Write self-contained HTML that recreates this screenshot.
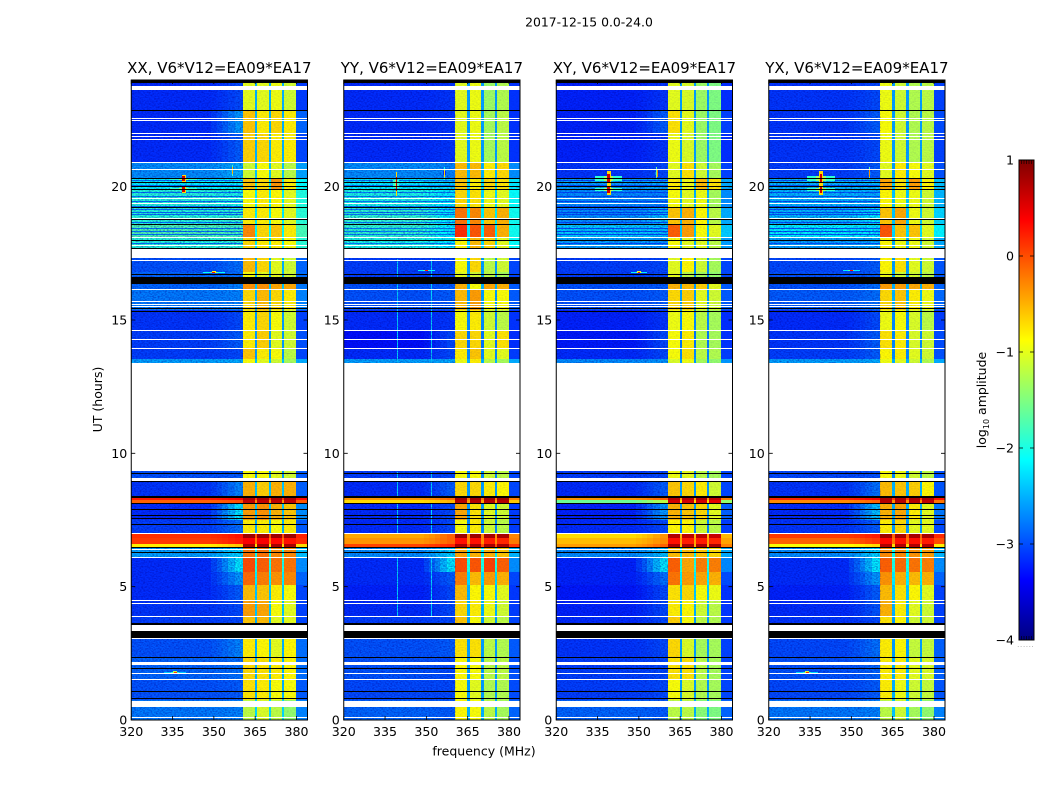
<!DOCTYPE html>
<html>
<head>
<meta charset="utf-8">
<title>2017-12-15 0.0-24.0</title>
<style>
html,body{margin:0;padding:0;background:#fff;}
svg{display:block;}
text{font-family:"DejaVu Sans","Liberation Sans",sans-serif;fill:#000;}
</style>
</head>
<body>
<svg id="figure" width="1050" height="800" viewBox="0 0 1050 800" xmlns="http://www.w3.org/2000/svg">
<defs>
<filter id="speckle" x="0" y="0" width="100%" height="100%" color-interpolation-filters="sRGB">
<feTurbulence type="fractalNoise" baseFrequency="0.55 0.8" numOctaves="1" seed="7"/>
<feColorMatrix type="matrix" values="0 0 0 0 0  0 0 0 0 0  0 0 0 0 0.6  2.6 0 0 0 -1.0"/>
</filter>
</defs>
<rect x="0" y="0" width="1050" height="800" fill="#fff"/>
<text x="589" y="26.5" font-size="12.4" text-anchor="middle">2017-12-15 0.0-24.0</text>
<text x="0" y="0" font-size="12.5" text-anchor="middle" transform="translate(102 399.5) rotate(-90)">UT (hours)</text>
<text x="484" y="755.5" font-size="12.5" text-anchor="middle">frequency (MHz)</text>
<text x="0" y="0" font-size="12.5" text-anchor="middle" transform="translate(986 400) rotate(-90)">log<tspan font-size="8" dy="3">10</tspan><tspan dy="-3"> amplitude</tspan></text>
<g id="panels"></g>
<g id="colorbar"></g>
<text x="1026" y="647" font-size="6" letter-spacing="1" style="fill:#777" text-anchor="middle">......</text>
</svg>
<script>
// ---- axis data ----
const panelTitles = ["XX, V6*V12=EA09*EA17", "YY, V6*V12=EA09*EA17", "XY, V6*V12=EA09*EA17", "YX, V6*V12=EA09*EA17"];
const xTicks = [320, 335, 350, 365, 380];
const yTicks = [0, 5, 10, 15, 20];
const colorTicks = [-4, -3, -2, -1, 0, 1];
// UT edges of the rows (hours, top to bottom)
const rowEdges = [24.0,22.875,22.01,20.925,20.325,19.875,19.24,18.6,18.11,17.325,16.8,16.35,16.125,15.375,14.625,13.95,13.54,9.34,8.925,8.36,8.25,8.1,7.5,6.975,6.825,6.6,6.49,6.075,5.55,5.06,4.5,3.9,3.075,2.325,1.5,0.75,0];
// log10 amplitude per row: [320-350 background, 355-360 edge, sub-band 1, 2, 3, 4, gaps]
const levelsXX = [
[-3.15,-3.0,-1.0,-1.0,-0.95,-1.1,-2.5],[-3.15,-2.6,-0.6,-0.8,-0.7,-0.8,-2.5],[-3.15,-2.9,-0.65,-0.7,-0.8,-0.8,-2.5],
[-2.65,-2.5,-1.1,-0.9,-1.0,-1.2,-2.4],[-2.15,-2.1,-0.6,-0.7,-0.35,-0.8,-2.2],[-1.95,-2.0,-0.9,-0.8,-0.85,-1.0,-2.2],
[-1.95,-1.9,-0.8,-0.8,-0.9,-1.0,-2.2],[-1.75,-1.8,-0.3,-0.7,-0.6,-0.8,-2.1],[-1.95,-1.9,-0.7,-0.8,-0.8,-0.9,-2.2],
[-2.95,-2.8,-0.55,-0.7,-1.0,-1.1,-2.5],[-2.85,-2.8,-0.9,-1.0,-1.0,-1.1,-2.5],[-2.85,-2.7,-0.35,-0.35,-0.45,-0.45,-2.4],
[-2.75,-2.7,-0.7,-0.55,-0.7,-0.8,-2.5],[-3.1,-3.0,-0.8,-0.7,-0.9,-1.1,-2.6],[-3.05,-2.9,-0.8,-0.65,-1.0,-1.1,-2.6],
[-3.05,-3.0,-0.6,-0.8,-0.9,-1.2,-2.6],[-2.55,-2.5,-0.9,-1.0,-1.1,-1.3,-2.4],[-2.95,-2.9,-0.9,-0.9,-1.0,-1.1,-2.6],
[-3.1,-2.7,-0.5,-0.65,-0.5,-0.5,-2.4],[0.25,0.4,0.8,0.8,0.8,0.8,0.1],[-0.1,0.0,0.7,0.7,0.7,0.7,-0.3],
[-3.15,-2.2,-0.4,-0.35,-0.5,-0.6,-2.4],[-3.05,-2.8,-0.8,-0.8,-0.9,-0.8,-2.5],[0.15,0.3,0.85,0.85,0.85,0.85,0.0],
[0.1,0.25,0.4,0.4,0.35,0.3,-0.2],[-0.8,-0.6,0.8,0.8,0.8,0.8,-0.7],[-2.55,-2.3,-0.2,-0.2,-0.3,-0.3,-2.1],
[-3.15,-2.2,0.0,-0.1,-0.2,-0.2,-2.0],[-3.15,-2.6,-0.15,-0.25,-0.35,-0.3,-2.2],[-3.15,-2.9,-0.55,-0.6,-0.8,-0.9,-2.4],
[-3.1,-3.0,-0.4,-0.45,-0.9,-1.0,-2.4],[-3.05,-3.0,-0.6,-0.55,-1.0,-1.0,-2.5],[-2.95,-2.7,-0.8,-0.85,-1.0,-0.85,-2.5],
[-2.85,-2.8,-0.7,-0.75,-0.8,-0.85,-2.5],[-2.95,-2.9,-0.75,-0.8,-0.9,-0.9,-2.5],[-2.75,-2.7,-1.2,-1.05,-1.2,-1.4,-2.3]];
const levelsYY = [
[-3.15,-3.1,-1.0,-0.95,-1.35,-1.25,-2.6],[-3.15,-3.1,-1.0,-0.95,-1.3,-1.2,-2.6],[-3.15,-3.1,-1.0,-0.95,-1.3,-1.2,-2.6],
[-2.65,-2.7,-0.55,-0.55,-0.8,-0.7,-2.5],[-2.15,-2.3,-0.6,-0.8,-0.7,-0.75,-2.3],[-2.0,-2.2,-0.7,-0.75,-0.95,-1.0,-2.3],
[-1.9,-2.2,-0.2,-0.3,-0.6,-0.5,-2.2],[-1.9,-2.2,0.15,-0.05,-0.1,-0.5,-2.2],[-2.0,-2.2,-0.85,-0.55,-0.7,-1.0,-2.3],
[-3.05,-3.0,-0.9,-0.7,-1.2,-1.1,-2.6],[-3.05,-3.0,-1.0,-1.1,-1.2,-1.3,-2.6],[-2.95,-2.9,-0.5,-0.9,-0.45,-0.5,-2.5],
[-2.95,-2.9,-0.55,-0.4,-0.9,-0.9,-2.6],[-3.15,-3.1,-0.9,-0.8,-1.1,-1.2,-2.7],[-3.3,-3.0,-0.7,-0.7,-1.0,-0.75,-2.8],
[-3.15,-3.0,-0.8,-0.6,-1.0,-1.0,-2.7],[-2.55,-2.5,-0.95,-0.8,-1.2,-1.3,-2.5],[-3.05,-3.0,-0.9,-0.9,-1.1,-1.2,-2.7],
[-3.15,-2.9,-0.7,-0.7,-0.8,-0.85,-2.6],[-0.35,-0.15,0.85,0.85,0.85,0.85,-0.2],[-0.7,-0.5,0.75,0.75,0.75,0.75,-0.4],
[-3.15,-3.0,-0.45,-0.75,-1.0,-1.1,-2.6],[-3.15,-3.0,-0.9,-0.8,-1.1,-1.2,-2.7],[-0.45,-0.1,0.85,0.85,0.8,0.8,-0.3],
[-0.35,-0.1,0.3,0.3,0.25,0.2,-0.3],[0.05,0.2,0.8,0.8,0.8,0.8,0.0],[-2.65,-2.3,-0.45,-0.5,-0.5,-0.6,-2.2],
[-3.15,-2.2,0.0,-0.05,0.05,-0.1,-2.0],[-3.15,-2.9,-0.25,-0.55,-0.4,-0.5,-2.3],[-3.2,-3.0,-0.55,-0.85,-0.9,-1.0,-2.5],
[-3.15,-3.0,-0.7,-0.8,-0.95,-1.1,-2.5],[-3.05,-3.0,-0.6,-0.9,-1.1,-1.2,-2.6],[-2.95,-2.9,-0.75,-0.75,-1.2,-1.25,-2.6],
[-2.95,-3.0,-0.85,-0.9,-1.2,-1.2,-2.6],[-3.0,-3.0,-0.9,-1.0,-1.25,-1.25,-2.6],[-2.85,-2.9,-0.85,-0.9,-1.2,-1.3,-2.5]];
const levelsXY = [
[-3.2,-3.1,-1.0,-1.05,-1.35,-1.5,-2.6],[-3.2,-2.9,-0.75,-1.0,-1.35,-1.5,-2.6],[-3.2,-3.1,-0.95,-1.05,-1.35,-1.5,-2.6],
[-3.1,-3.0,-1.0,-0.75,-1.1,-1.3,-2.6],[-2.55,-2.5,-0.8,-0.95,-0.55,-0.75,-2.5],[-2.65,-2.7,-0.9,-1.0,-0.95,-1.3,-2.5],
[-2.65,-2.4,-0.6,-0.5,-0.85,-1.2,-2.5],[-2.35,-2.4,-0.1,-0.4,-0.9,-1.0,-2.4],[-2.55,-2.6,-0.9,-1.0,-1.0,-1.2,-2.5],
[-3.05,-3.0,-1.0,-0.85,-1.1,-1.3,-2.7],[-3.05,-3.0,-1.0,-1.2,-1.3,-1.4,-2.7],[-2.95,-2.9,-0.5,-0.55,-0.65,-1.0,-2.6],
[-2.95,-2.9,-0.7,-0.65,-1.0,-1.1,-2.6],[-3.2,-3.1,-0.95,-0.9,-1.2,-1.3,-2.7],[-3.25,-3.0,-0.9,-0.8,-1.25,-1.3,-2.8],
[-3.15,-3.0,-0.9,-0.75,-1.2,-1.25,-2.7],[-2.65,-2.6,-1.05,-0.95,-1.3,-1.4,-2.6],[-3.05,-3.0,-0.95,-1.0,-1.2,-1.3,-2.7],
[-3.15,-2.9,-0.6,-0.7,-0.8,-1.1,-2.6],[-0.35,-0.1,0.75,0.75,0.8,0.7,-0.4],[-1.6,-1.2,0.6,0.6,0.6,0.5,-0.7],
[-3.2,-2.6,-0.5,-0.6,-0.7,-1.0,-2.6],[-3.15,-3.0,-0.85,-0.85,-1.1,-1.2,-2.7],[-0.7,-0.35,0.75,0.7,0.7,0.65,-0.5],
[-0.55,-0.3,0.3,0.25,0.25,0.2,-0.4],[-0.4,-0.1,0.8,0.8,0.8,0.8,-0.5],[-2.65,-2.4,-0.55,-0.55,-0.6,-0.7,-2.2],
[-3.2,-2.2,-0.1,-0.45,-0.25,-0.25,-2.0],[-3.2,-2.8,-0.2,-0.4,-0.45,-0.5,-2.2],[-3.25,-3.0,-0.75,-0.7,-0.9,-0.95,-2.4],
[-3.2,-3.0,-0.8,-0.85,-1.1,-1.2,-2.5],[-3.15,-3.0,-0.65,-0.9,-1.2,-1.25,-2.6],[-3.1,-3.0,-0.7,-1.05,-1.3,-1.3,-2.6],
[-3.05,-3.0,-0.75,-0.75,-1.2,-1.3,-2.6],[-3.05,-3.0,-0.9,-1.05,-1.25,-1.3,-2.6],[-2.85,-2.9,-1.2,-1.2,-1.45,-1.5,-2.5]];
const levelsYX = [
[-3.1,-3.0,-0.95,-1.1,-1.25,-1.2,-2.6],[-3.1,-2.9,-0.9,-1.1,-1.25,-1.2,-2.6],[-3.1,-3.0,-0.95,-1.1,-1.25,-1.2,-2.6],
[-3.05,-2.9,-1.0,-0.8,-0.9,-1.0,-2.6],[-2.45,-2.4,-0.45,-0.75,-0.4,-0.85,-2.4],[-2.45,-2.5,-0.85,-0.95,-0.95,-1.1,-2.4],
[-2.45,-2.2,-0.6,-0.45,-0.95,-1.1,-2.4],[-2.15,-2.2,-0.05,-0.6,-0.6,-1.0,-2.3],[-2.55,-2.5,-0.85,-0.95,-0.95,-1.1,-2.5],
[-3.0,-2.9,-0.85,-0.75,-1.0,-1.1,-2.6],[-2.95,-2.9,-0.95,-1.1,-1.1,-1.2,-2.6],[-2.95,-2.8,-0.4,-0.4,-0.45,-0.5,-2.5],
[-2.9,-2.8,-0.7,-0.6,-0.8,-0.95,-2.5],[-3.15,-3.0,-0.95,-0.9,-1.05,-1.2,-2.7],[-3.1,-2.9,-0.75,-0.8,-1.05,-1.1,-2.7],
[-3.05,-2.9,-0.85,-0.8,-1.0,-1.1,-2.7],[-2.55,-2.5,-0.95,-1.0,-1.1,-1.25,-2.5],[-3.0,-2.95,-0.9,-0.95,-1.1,-1.2,-2.7],
[-3.1,-2.8,-0.55,-0.6,-0.65,-0.85,-2.5],[0.2,0.4,0.8,0.8,0.8,0.8,0.1],[-0.3,-0.1,0.75,0.75,0.75,0.7,-0.3],
[-3.15,-2.4,-0.5,-0.45,-0.8,-1.0,-2.5],[-3.1,-2.9,-0.8,-0.7,-1.0,-1.0,-2.6],[0.1,0.25,0.85,0.8,0.8,0.8,-0.1],
[-0.1,0.1,0.35,0.3,0.3,0.25,-0.2],[-0.9,-0.7,0.75,0.75,0.75,0.75,-0.7],[-2.65,-2.3,-0.3,-0.3,-0.35,-0.4,-2.1],
[-3.15,-2.2,-0.1,-0.15,-0.2,-0.25,-2.0],[-3.15,-2.6,-0.35,-0.5,-0.55,-0.5,-2.2],[-3.2,-2.9,-0.55,-0.75,-0.85,-1.0,-2.4],
[-3.15,-2.95,-0.5,-0.8,-1.0,-1.1,-2.5],[-3.1,-3.0,-0.75,-0.85,-1.1,-1.1,-2.6],[-3.0,-2.8,-0.8,-0.85,-1.15,-1.15,-2.6],
[-2.95,-2.85,-0.8,-0.8,-1.0,-1.05,-2.5],[-3.0,-2.9,-0.8,-0.95,-1.1,-1.15,-2.5],[-2.75,-2.7,-1.2,-1.1,-1.3,-1.4,-2.4]];
const panelLevels = [levelsXX, levelsYY, levelsXY, levelsYX];
// flagged (blank) and zeroed (black) intervals, hours
const blankStart = [23.79,22.575,22.51,22.0,21.9,21.8,20.91,20.66,19.56,19.375,18.81,18.11,17.81,17.65,17.25,16.15,15.71,15.59,15.51,14.625,14.29,13.95,13.37,9.075,7.01,6.41,6.11,4.51,4.4,3.9,3.57,3.06,2.175,1.75,1.54,0.71,0.525,0.11];
const blankEnd   = [23.625,22.54,22.47,21.96,21.86,21.77,20.89,20.625,19.54,19.35,18.79,18.09,17.76,17.325,17.21,16.125,15.675,15.55,15.475,14.59,14.25,13.91,9.34,8.96,6.975,6.375,6.09,4.47,4.36,3.86,3.35,3.03,2.06,1.725,1.49,0.54,0.49,0.075];
const zeroStart = [24,22.875,20.31,20.16,20.04,19.9,19.24,18.79,18.59,17.99,17.69,16.725,16.62,15.46,15.35,9.26,8.96,8.4,8.125,7.91,7.7,7.575,7.34,6.5,6.29,3.64,3.35,2.36,1.96,1.1,0.81];
const zeroEnd   = [23.88,22.84,20.29,20.14,20.01,19.875,19.21,18.76,18.56,17.96,17.65,16.7,16.35,15.43,15.3,9.24,8.925,8.34,8.09,7.89,7.68,7.55,7.31,6.45,6.25,3.57,3.08,2.31,1.94,1.06,0.79];
// thin low-level rows in the 20h event
const stripeUT = [20.25,20.08,19.8,19.65,19.46,19.28,19.16,19.05,18.98,18.68,18.45,18.34,18.22,17.89];
const stripeLevel = [-2.8,-2.75,-3.0,-2.95];
// narrow-band RFI in YY
const ridgeFreq = [339.5, 351.8];
const ridgeStart = [9.3, 8.1, 6.1, 17.3];
const ridgeEnd = [8.4, 7.0, 3.9, 13.4];
const ridgeLevel = -2.3;
// interference spots: panel, frequency, UT, half-width MHz, half-height hours, peak level
const spotPanel = [0,0,0,0,1,1,2,2,2,2,3,3,3,3,0,1,3];
const spotFreq = [339,339,356.5,336,339,356.5,339,339,356.5,350,339,339,356.5,334,350,350,350];
const spotUT = [20.3,19.9,20.6,1.8,20.1,20.5,20.3,19.9,20.5,16.8,20.3,19.9,20.5,1.8,16.8,16.85,16.85];
const spotHalfW = [5,5,0.4,4,1.0,0.5,5,5,0.5,3,5,5,0.5,4,4,3,3];
const spotHalfH = [0.14,0.14,0.2,0.03,0.45,0.25,0.28,0.2,0.22,0.03,0.28,0.2,0.22,0.03,0.03,0.03,0.03];
const spotLevel = [0.6,0.6,-0.5,0.1,0.6,-0.7,0.6,0.6,-0.3,0.3,0.6,0.6,-0.3,0.2,0.4,0.3,0.3];
// ---- figure frame ----
const SVGNS = "http://www.w3.org/2000/svg";
const axisLeft = [131.25, 343.75, 556.25, 768.75];
const axisWidth = 176.25, axisTop = 80, axisBottom = 720;
const xMin = 320, xMax = 384, yMax = 24;
const barLeft = 1019, barRight = 1034, barTop = 160, barBottom = 640;
const edgeSteps = [347, 349, 351, 353, 355, 357.5, 360.5];
const edgeMix = [0, 0.15, 0.3, 0.5, 0.75, 1];
function xScale(p, f){ return axisLeft[p] + (f - xMin) / (xMax - xMin) * axisWidth; }
function yScale(u){ return axisBottom - u / yMax * (axisBottom - axisTop); }
function colorScale(v){ return barBottom - (v + 4) / 5 * (barBottom - barTop); }
function jet(v){
  const n = Math.max(0, Math.min(1, (v + 4) / 5));
  const c = (lo) => Math.round(255 * Math.max(0, Math.min(1, 1.5 - Math.abs(4 * n - lo))));
  return "rgb(" + c(3) + "," + c(2) + "," + c(1) + ")";
}
function add(parent, tag, attrs){
  const el = document.createElementNS(SVGNS, tag);
  for (const k in attrs) el.setAttribute(k, attrs[k]);
  parent.appendChild(el);
  return el;
}
function cell(g, p, f0, f1, u0, u1, fill, name){
  const x0 = Math.round(xScale(p, f0)), x1 = Math.round(xScale(p, f1));
  const y0 = Math.round(yScale(u0)), y1 = Math.round(yScale(u1));
  const el = add(g, "rect", {x: x0, y: y0, width: Math.max(1, x1 - x0), height: Math.max(1, y1 - y0), fill: fill, "shape-rendering": "crispEdges"});
  
  
  return el;
}
function drawRow(img, p, row, i){
  const u0 = rowEdges[i], u1 = rowEdges[i + 1];
  const mid = (row[0] + row[1]) / 2;
  cell(img, p, 320, edgeSteps[0], u0, u1, jet(row[0]), 'heatmap-cell');
  edgeMix.forEach(function(t, k){
    cell(img, p, edgeSteps[k], edgeSteps[k + 1], u0, u1, jet(row[0] + (row[1] - row[0]) * t), 'heatmap-cell');
  });
  cell(img, p, 360.5, 364.9, u0, u1, jet(row[2]), 'heatmap-cell');
  cell(img, p, 364.9, 365.7, u0, u1, jet(row[6]), 'heatmap-cell');
  cell(img, p, 365.7, 370.0, u0, u1, jet(row[3]), 'heatmap-cell');
  cell(img, p, 370.0, 370.8, u0, u1, jet(row[6]), 'heatmap-cell');
  cell(img, p, 370.8, 374.8, u0, u1, jet(row[4]), 'heatmap-cell');
  cell(img, p, 374.8, 375.6, u0, u1, jet(row[6]), 'heatmap-cell');
  cell(img, p, 375.6, 379.9, u0, u1, jet(row[5]), 'heatmap-cell');
  cell(img, p, 379.9, 384, u0, u1, jet(mid), 'heatmap-cell');
}
const panelsG = document.getElementById("panels");
panelTitles.forEach(function(title, p){
  const g = add(panelsG, "g", {});
  
  
  const clipId = "clip" + p;
  const defs = add(g, "defs", {});
  const clip = add(defs, "clipPath", {id: clipId});
  add(clip, "rect", {x: axisLeft[p], y: axisTop, width: axisWidth, height: axisBottom - axisTop});
  const img = add(g, "g", {"clip-path": "url(#" + clipId + ")"});
  
  
  const levels = panelLevels[p];
  levels.forEach(function(row, i){
    if (row[0] <= -1.7) drawRow(img, p, row, i);
  });
  stripeUT.forEach(function(u){
    cell(img, p, 320, 360.5, u, u - 0.02, jet(stripeLevel[p]), 'heatmap-low-row');
  });
  if (p === 1) {
    ridgeFreq.forEach(function(f){
      ridgeStart.forEach(function(s, k){
        cell(img, p, f, f + 0.3, s, ridgeEnd[k], jet(ridgeLevel), 'rfi-line');
      });
    });
  }
  // pixel speckle texture (background stronger, sub-bands weak)
  const bgSpeckle = add(img, "rect", {x: xScale(p, 320), y: axisTop, width: xScale(p, 360.5) - xScale(p, 320), height: axisBottom - axisTop, fill: "#000", filter: "url(#speckle)", opacity: 0.45});
  
  
  const bandSpeckle = add(img, "rect", {x: xScale(p, 360.5), y: axisTop, width: xScale(p, 384) - xScale(p, 360.5), height: axisBottom - axisTop, fill: "#000", filter: "url(#speckle)", opacity: 0.1});
  
  
  // saturated rows stay smooth
  levels.forEach(function(row, i){
    if (row[0] > -1.7) drawRow(img, p, row, i);
  });
  spotPanel.forEach(function(sp, k){
    if (sp !== p) return;
    const f = spotFreq[k], u = spotUT[k], w = spotHalfW[k], h = spotHalfH[k], v = spotLevel[k];
    cell(img, p, f - w, f + w, u + h * 0.3, u - h * 0.3, jet(v - 2.5), 'rfi-halo');
    cell(img, p, f - w * 0.35, f + w * 0.35, u + h * 0.3, u - h * 0.3, jet(v - 2.0), 'rfi-halo');
    cell(img, p, f - Math.min(w * 0.2, 0.7), f + Math.min(w * 0.2, 0.7), u + h, u - h, jet(v - 1.3), 'rfi-halo');
    cell(img, p, f - Math.min(w * 0.15, 0.5), f + Math.min(w * 0.15, 0.5), u + h * 0.6, u - h * 0.6, jet(v), 'rfi-spot');
  });
  blankStart.forEach(function(s, k){
    cell(img, p, 320, 384, s, blankEnd[k], "#ffffff", 'flagged-interval');
  });
  zeroStart.forEach(function(s, k){
    cell(img, p, 320, 384, s, zeroEnd[k], "#000000", 'zero-interval');
  });
  // frame
  const frame = add(g, "rect", {x: axisLeft[p], y: axisTop, width: axisWidth, height: axisBottom - axisTop, fill: "none", stroke: "#000", "stroke-width": 1});
  
  
  // x ticks
  xTicks.forEach(function(t){
    const x = xScale(p, t);
    const a = add(g, "path", {d: "M" + x + " " + axisBottom + "v-4M" + x + " " + axisTop + "v4", stroke: "#000", "stroke-width": 0.8, fill: "none"});
    
    
    const l = add(g, "text", {x: x, y: axisBottom + 16, "font-size": 12.6, "text-anchor": "middle"});
    l.textContent = String(t);
    
    
  });
  // y ticks
  yTicks.forEach(function(t){
    const y = yScale(t);
    const a = add(g, "path", {d: "M" + axisLeft[p] + " " + y + "h4M" + (axisLeft[p] + axisWidth) + " " + y + "h-4", stroke: "#000", "stroke-width": 0.8, fill: "none"});
    
    
    const l = add(g, "text", {x: axisLeft[p] - 4, y: y + 4.5, "font-size": 12.6, "text-anchor": "end"});
    l.textContent = String(t);
    
    
  });
  const tt = add(g, "text", {x: axisLeft[p] + axisWidth / 2, y: 73, "font-size": 15, "text-anchor": "middle"});
  tt.textContent = title;
  
  
});
// ---- colorbar ----
const cb = document.getElementById("colorbar");
const defsCb = add(cb, "defs", {});
const grad = add(defsCb, "linearGradient", {id: "jetGrad", x1: 0, y1: 1, x2: 0, y2: 0});
for (let i = 0; i <= 64; i++) {
  add(grad, "stop", {offset: (i / 64), "stop-color": jet(-4 + 5 * i / 64)});
}
const bar = add(cb, "rect", {x: barLeft, y: barTop, width: barRight - barLeft, height: barBottom - barTop, fill: "url(#jetGrad)", stroke: "#000", "stroke-width": 1});


colorTicks.forEach(function(t){
  const y = colorScale(t);
  const a = add(cb, "path", {d: "M" + barLeft + " " + y + "h4M" + barRight + " " + y + "h-4", stroke: "#000", "stroke-width": 0.8, fill: "none"});
  
  
  const l = add(cb, "text", {x: barLeft - 5, y: y + 4.5, "font-size": 12.6, "text-anchor": "end"});
  l.textContent = String(t).replace("-", "\u2212");
  
  
});
for (let i = 1; i <= 5; i++) {
  const x = barLeft + i * 2.5;
  const a = add(cb, "path", {d: "M" + x + " " + barTop + "v4M" + x + " " + barBottom + "v-4", stroke: "#000", "stroke-width": 0.6, fill: "none"});
  
  
}
</script>
</body>
</html>
